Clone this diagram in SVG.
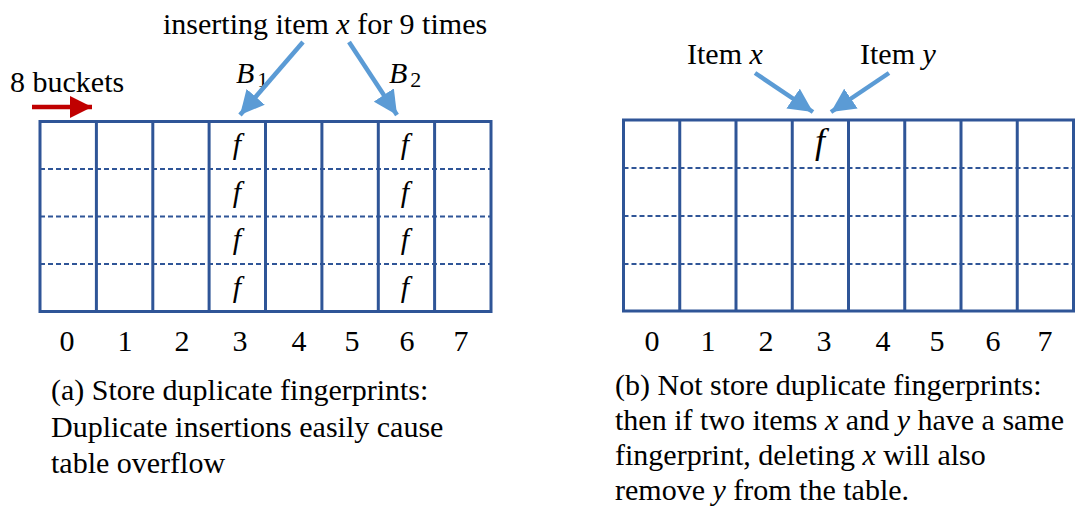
<svg xmlns="http://www.w3.org/2000/svg" width="1077" height="512" viewBox="0 0 1077 512">
<style>
text{font-family:"Liberation Serif","Times New Roman",serif;font-size:30px;fill:#000}
.it{font-style:italic}
.mid{text-anchor:middle}
.ff{font-style:italic;font-size:36px;text-anchor:middle}
.frame{fill:#fff;stroke:#2F5597;stroke-width:3}
.vl{stroke:#2F5597;stroke-width:3}
.dl{stroke:#2F5597;stroke-width:1.8;stroke-dasharray:5 3}
.blue{stroke:#5B9BD5;stroke-width:4.5;fill:none}
.red{stroke:#C00000;stroke-width:4.5;fill:none}
</style>
<defs>
<marker id="ab" markerUnits="userSpaceOnUse" markerWidth="26" markerHeight="24" refX="24" refY="12" orient="auto"><path d="M0,0 L24,12 L0,24 z" fill="#5B9BD5"/></marker>
<marker id="ar" markerUnits="userSpaceOnUse" markerWidth="24" markerHeight="22" refX="22" refY="11" orient="auto"><path d="M0,0 L22,11 L0,22 z" fill="#C00000"/></marker>
</defs>

<g id="tableA">
<rect class="frame" x="40" y="121.5" width="451" height="190"/>
<g class="vl">
<line x1="96.4" y1="121.5" x2="96.4" y2="311.5"/>
<line x1="152.8" y1="121.5" x2="152.8" y2="311.5"/>
<line x1="209.1" y1="121.5" x2="209.1" y2="311.5"/>
<line x1="265.5" y1="121.5" x2="265.5" y2="311.5"/>
<line x1="321.9" y1="121.5" x2="321.9" y2="311.5"/>
<line x1="378.3" y1="121.5" x2="378.3" y2="311.5"/>
<line x1="434.6" y1="121.5" x2="434.6" y2="311.5"/>
</g>
<g class="dl">
<line x1="40" y1="169" x2="491" y2="169"/>
<line x1="40" y1="216.5" x2="491" y2="216.5"/>
<line x1="40" y1="264" x2="491" y2="264"/>
</g>
<g class="ff">
<text x="237" y="154">f</text>
<text x="237" y="202">f</text>
<text x="237" y="249">f</text>
<text x="237" y="297">f</text>
<text x="405" y="154">f</text>
<text x="405" y="202">f</text>
<text x="405" y="249">f</text>
<text x="405" y="297">f</text>
</g>
<g class="mid">
<text x="67" y="351">0</text>
<text x="125" y="351">1</text>
<text x="182" y="351">2</text>
<text x="240" y="351">3</text>
<text x="299" y="351">4</text>
<text x="352" y="351">5</text>
<text x="407" y="351">6</text>
<text x="461" y="351">7</text>
</g>
</g>

<g id="tableB">
<rect class="frame" x="623.5" y="120" width="450" height="191"/>
<g class="vl">
<line x1="679.75" y1="120" x2="679.75" y2="311"/>
<line x1="736" y1="120" x2="736" y2="311"/>
<line x1="792.25" y1="120" x2="792.25" y2="311"/>
<line x1="848.5" y1="120" x2="848.5" y2="311"/>
<line x1="904.75" y1="120" x2="904.75" y2="311"/>
<line x1="961" y1="120" x2="961" y2="311"/>
<line x1="1017.25" y1="120" x2="1017.25" y2="311"/>
</g>
<g class="dl">
<line x1="623.5" y1="168" x2="1073.5" y2="168"/>
<line x1="623.5" y1="216" x2="1073.5" y2="216"/>
<line x1="623.5" y1="264" x2="1073.5" y2="264"/>
</g>
<text class="ff" x="820" y="153">f</text>
<g class="mid">
<text x="652" y="351">0</text>
<text x="708" y="351">1</text>
<text x="766" y="351">2</text>
<text x="824" y="351">3</text>
<text x="883" y="351">4</text>
<text x="937" y="351">5</text>
<text x="993" y="351">6</text>
<text x="1045" y="351">7</text>
</g>
</g>

<g id="labels">
<text x="163" y="34">inserting item <tspan class="it">x</tspan> for 9 times</text>
<text x="10" y="92">8 buckets</text>
<text x="236" y="83" class="it">B<tspan font-style="normal" font-size="22" dx="3" dy="4">1</tspan></text>
<text x="389" y="83" class="it">B<tspan font-style="normal" font-size="22" dx="3" dy="4">2</tspan></text>
<text x="687" y="64">Item <tspan class="it">x</tspan></text>
<text x="860" y="64">Item <tspan class="it">y</tspan></text>
</g>

<g id="captionA">
<text x="51" y="400">(a) Store duplicate fingerprints:</text>
<text x="51" y="437">Duplicate insertions easily cause</text>
<text x="51" y="473">table overflow</text>
</g>
<g id="captionB">
<text x="615" y="395">(b) Not store duplicate fingerprints:</text>
<text x="615" y="430">then if two items <tspan class="it">x</tspan> and <tspan class="it">y</tspan> have a same</text>
<text x="615" y="465">fingerprint, deleting <tspan class="it">x</tspan> will also</text>
<text x="615" y="500">remove <tspan class="it">y</tspan> from the table.</text>
</g>

<g id="connectors">
<line class="blue" x1="303" y1="42" x2="240" y2="115" marker-end="url(#ab)"/>
<line class="blue" x1="349" y1="42" x2="397" y2="115" marker-end="url(#ab)"/>
<line class="red" x1="32" y1="107" x2="92" y2="107" marker-end="url(#ar)"/>
<line class="blue" x1="755" y1="73" x2="813" y2="112" marker-end="url(#ab)"/>
<line class="blue" x1="889" y1="73" x2="831" y2="112" marker-end="url(#ab)"/>
</g>
</svg>
